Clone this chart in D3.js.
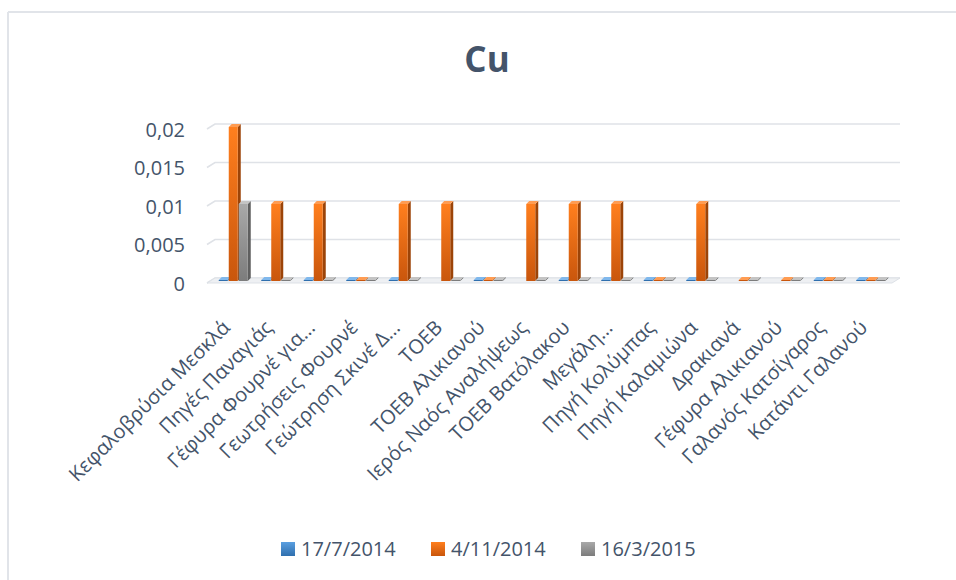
<!DOCTYPE html>
<html>
<head>
<meta charset="utf-8">
<script src="https://cdn.jsdelivr.net/npm/d3@7"></script>
<style>
  body { margin: 0; background: #fff; }
  text { font-family: "Open Sans", "DejaVu Sans", sans-serif; fill: #44546a; }
</style>
</head>
<body>
<div id="chart"></div>
<script>
// categories and series (null = no bar drawn)
const categories = [
  "Κεφαλοβρύσια Μεσκλά", "Πηγές Παναγιάς", "Γέφυρα Φουρνέ για…", "Γεωτρήσεις Φουρνέ",
  "Γεώτρηση Σκινέ Δ…", "ΤΟΕΒ", "ΤΟΕΒ Αλικιανού", "Ιερός Ναός Αναλήψεως",
  "ΤΟΕΒ Βατόλακου", "Μεγάλη…", "Πηγή Κολύμπας", "Πηγή Καλαμιώνα",
  "Δρακιανά", "Γέφυρα Αλικιανού", "Γαλανός Κατσίγαρος", "Κατάντι Γαλανού"
];
const seriesNames = ["17/7/2014", "4/11/2014", "16/3/2015"];
const s1 = [0, 0, 0, 0, 0, null, 0, null, 0, 0, 0, 0, null, null, 0, 0];
const s2 = [0.02, 0.01, 0.01, 0, 0.01, 0.01, 0, 0.01, 0.01, 0.01, 0, 0.01, 0, 0, 0, 0];
const s3 = [0.01, 0, 0, 0, 0, 0, 0, 0, 0, 0, 0, 0, 0, 0, 0, 0];
const yTicks = [0, 0.005, 0.01, 0.015, 0.02];

const seriesValues = [s1, s2, s3];
// colours per series: front top, front bottom, side, top
const palette = [
  { a: "#5a9fe0", b: "#2f6fae", side: "#245a8f", top: "#80b8ec" },
  { a: "#ff7f1e", b: "#c9560c", side: "#9c4408", top: "#ff9c52" },
  { a: "#a9a9a9", b: "#7c7c7c", side: "#5f5f5f", top: "#c4c4c4" }
];

const W = 956, H = 580;
const svg = d3.select("#chart").append("svg").attr("width", W).attr("height", H);

// gradients
const defs = svg.append("defs");
palette.forEach((p, i) => {
  const g = defs.append("linearGradient").attr("id", "g" + i)
    .attr("x1", 0).attr("y1", 0).attr("x2", 0).attr("y2", 1);
  g.append("stop").attr("offset", "0%").attr("stop-color", p.a);
  g.append("stop").attr("offset", "100%").attr("stop-color", p.b);
});

// chart border (top and left only visible)
svg.append("line").attr("x1", 8).attr("x2", W).attr("y1", 12).attr("y2", 12)
  .attr("stroke", "#e1e4e9").attr("stroke-width", 2);
svg.append("line").attr("x1", 8).attr("x2", 8).attr("y1", 12).attr("y2", H)
  .attr("stroke", "#e1e4e9").attr("stroke-width", 2);

// title
svg.append("text")
  .attr("x", 487).attr("y", 72)
  .attr("text-anchor", "middle")
  .style("font-size", "35px").style("font-weight", "bold")
  .text("Cu");

const depthX = 3, depthY = 3;

const x = d3.scaleBand().domain(categories).range([212, 892]).padding(0);
const xs = d3.scaleBand().domain(seriesNames).range([0, 30]);
const y = d3.scaleLinear().domain([0, 0.02]).range([281, 127]);
const barW = 9;

// back wall gridlines
const grid = svg.append("g");
yTicks.forEach(t => {
  const gy = y(t) - depthY;
  grid.append("path")
    .attr("d", `M207,${gy + 5}L215,${gy}L900,${gy}`)
    .attr("fill", "none").attr("stroke", "#dfe2e7").attr("stroke-width", 1.6);
});

// floor
svg.append("path")
  .attr("d", `M207,${y(0) + 2}L215,${y(0) - 3}L900,${y(0) - 3}L892,${y(0) + 2}Z`)
  .attr("fill", "#eef0f3").attr("stroke", "#dde1e6").attr("stroke-width", 1);

// y axis labels
const yAxis = svg.append("g").attr("transform", "translate(185,3)")
  .call(d3.axisLeft(y).tickValues(yTicks).tickSize(0).tickPadding(0)
    .tickFormat(d => d3.format("")(d).replace(".", ",")));
yAxis.select(".domain").remove();
yAxis.selectAll("text")
  .style("font-size", "20px").style("font-family", "'Open Sans', sans-serif")
  .attr("fill", "#44546a");

// bars
const bars = [];
seriesValues.forEach((vals, si) => {
  vals.forEach((v, ci) => {
    if (v !== null) bars.push({ si, ci, v });
  });
});

const barG = svg.append("g").selectAll("g").data(bars).enter().append("g");
barG.each(function (d) {
  const g = d3.select(this);
  const x0 = x(categories[d.ci]) + x.bandwidth() / 2 - 15 + xs(seriesNames[d.si]) + 0.5;
  const yt = Math.min(y(d.v), y(0) - 1);
  const yb = y(0);
  const p = palette[d.si];
  // side face
  g.append("path")
    .attr("d", `M${x0 + barW},${yt}L${x0 + barW + depthX},${yt - depthY}L${x0 + barW + depthX},${yb - depthY}L${x0 + barW},${yb}Z`)
    .attr("fill", p.side);
  // front face
  g.append("rect")
    .attr("x", x0).attr("y", yt)
    .attr("width", barW).attr("height", yb - yt)
    .attr("fill", d.v > 0 ? `url(#g${d.si})` : p.b);
  // top face
  g.append("path")
    .attr("d", `M${x0},${yt}L${x0 + depthX},${yt - depthY}L${x0 + barW + depthX},${yt - depthY}L${x0 + barW},${yt}Z`)
    .attr("fill", p.top);
});

// category labels
svg.append("g").selectAll("text").data(categories).enter().append("text")
  .attr("transform", d => `translate(${x(d) + x.bandwidth() / 2 - 12},${319}) rotate(-45)`)
  .attr("text-anchor", "end")
  .attr("dy", "0.7em")
  .style("font-size", "20px")
  .text(d => d);

// legend
const legendX = [281, 431, 581];
const legend = svg.append("g").selectAll("g").data(seriesNames).enter().append("g")
  .attr("transform", (d, i) => `translate(${legendX[i]},542)`);
legend.append("rect")
  .attr("width", 14).attr("height", 14)
  .attr("fill", (d, i) => `url(#g${i})`);
legend.append("text")
  .attr("x", 20).attr("y", 7).attr("dy", "0.36em")
  .style("font-size", "20px")
  .text(d => d);
</script>
</body>
</html>
